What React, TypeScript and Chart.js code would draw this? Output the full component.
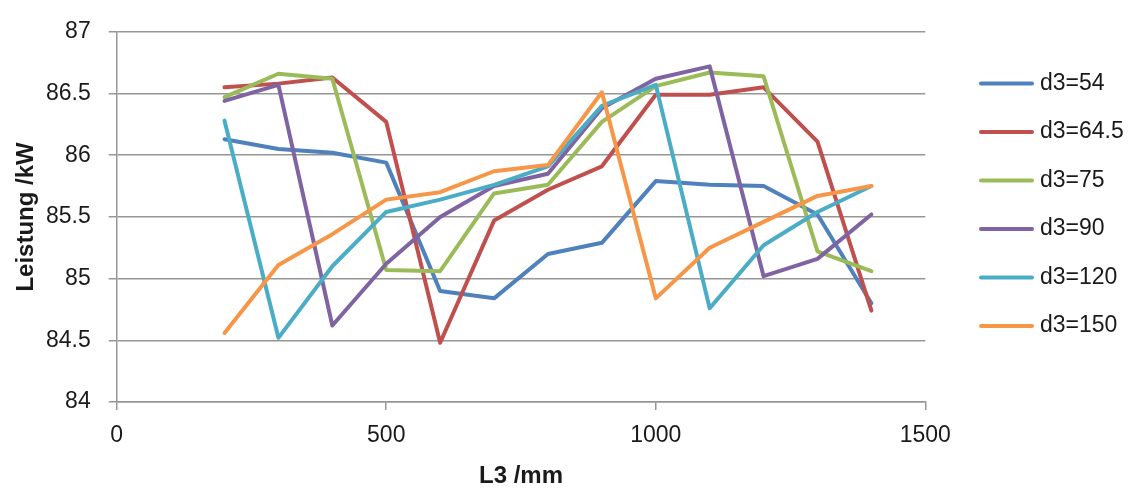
import React, { useEffect, useRef } from "react";
import { Chart, registerables } from "chart.js";

Chart.register(...registerables);

const L3 = [200, 300, 400, 500, 600, 700, 800, 900, 1000, 1100, 1200, 1300, 1400];
const seriesLabels = ["d3=54", "d3=64.5", "d3=75", "d3=90", "d3=120", "d3=150"];
const seriesColors = ["#4F81BD", "#C0504D", "#9BBB59", "#8064A2", "#4BACC6", "#F79646"];
const d54 = [86.13, 86.05, 86.02, 85.94, 84.9, 84.84, 85.2, 85.29, 85.79, 85.76, 85.75, 85.52, 84.8];
const d64_5 = [86.55, 86.58, 86.63, 86.27, 84.48, 85.47, 85.72, 85.91, 86.49, 86.49, 86.55, 86.11, 84.74];
const d75 = [86.47, 86.66, 86.62, 85.07, 85.06, 85.69, 85.76, 86.27, 86.56, 86.67, 86.64, 85.22, 85.06];
const d90 = [86.44, 86.57, 84.62, 85.12, 85.5, 85.75, 85.85, 86.38, 86.62, 86.72, 85.02, 85.16, 85.52];
const d120 = [86.28, 84.52, 85.1, 85.54, 85.64, 85.76, 85.91, 86.4, 86.57, 84.76, 85.27, 85.54, 85.75];
const d150 = [84.56, 85.11, 85.36, 85.64, 85.7, 85.87, 85.92, 86.51, 84.84, 85.25, 85.46, 85.67, 85.75];
const seriesValues = [d54, d64_5, d75, d90, d120, d150];

const xTitle = "L3 /mm";
const yTitle = "Leistung /kW";

const FONT = "'Liberation Sans', Arial, sans-serif";
const TEXT = "#1a1a1a";
const GRID = "#969696";

const legendPlugin = {
  id: "sideLegend",
  afterDraw(chart: any) {
    const ctx = chart.ctx;
    ctx.save();
    chart.data.datasets.forEach((ds: any, i: number) => {
      const y = 83.5 + i * 48.5;
      ctx.strokeStyle = ds.borderColor;
      ctx.lineWidth = 4;
      ctx.lineCap = "round";
      ctx.beginPath();
      ctx.moveTo(981, y);
      ctx.lineTo(1032, y);
      ctx.stroke();
      ctx.fillStyle = TEXT;
      ctx.font = `23px ${FONT}`;
      ctx.textBaseline = "middle";
      ctx.textAlign = "left";
      ctx.fillText(ds.label, 1040, y);
    });
    ctx.restore();
  },
};

export default function App() {
  const ref = useRef<HTMLCanvasElement>(null);
  useEffect(() => {
    if (!ref.current) return;
    const chart = new Chart(ref.current, {
      type: "line",
      data: {
        datasets: seriesLabels.map((label, i) => ({
          label,
          data: L3.map((x, j) => ({ x, y: seriesValues[i][j] })),
          borderColor: seriesColors[i],
          backgroundColor: seriesColors[i],
          borderWidth: 4,
          pointRadius: 0,
          borderJoinStyle: "round" as const,
          borderCapStyle: "round" as const,
          tension: 0,
          fill: false,
          order: seriesLabels.length - i,
        })),
      },
      options: {
        animation: false,
        responsive: false,
        devicePixelRatio: 1,
        layout: { padding: { left: 0, top: 27, right: 210.7, bottom: 0 } },
        plugins: { legend: { display: false }, tooltip: { enabled: false } },
        scales: {
          x: {
            type: "linear",
            min: 0,
            max: 1500,
            ticks: {
              stepSize: 500,
              padding: 12,
              color: TEXT,
              font: { family: FONT, size: 23 },
              callback: (v: any) => String(v),
            },
            grid: { drawOnChartArea: false, drawTicks: true, tickLength: 8, color: GRID, lineWidth: 1.5 },
            border: { display: true, color: GRID, width: 1.5 },
            title: {
              display: true,
              text: xTitle,
              color: TEXT,
              font: { family: FONT, size: 24, weight: "bold" },
              padding: { top: 0, bottom: 0 },
            },
            afterFit: (s: any) => {
              s.height = 89;
            },
          },
          y: {
            type: "linear",
            min: 84,
            max: 87,
            ticks: {
              stepSize: 0.5,
              padding: 18,
              color: TEXT,
              font: { family: FONT, size: 23 },
              callback: (v: any) => String(v),
            },
            grid: { drawOnChartArea: true, drawTicks: true, tickLength: 8, color: GRID, lineWidth: 1.5 },
            border: { display: true, color: GRID, width: 1.5 },
            title: {
              display: true,
              text: yTitle,
              color: TEXT,
              font: { family: FONT, size: 24, weight: "bold" },
              padding: { top: 12, bottom: 0 },
            },
            afterFit: (s: any) => {
              s.width = 116.7;
            },
          },
        },
      },
      plugins: [legendPlugin],
    });
    return () => chart.destroy();
  }, []);
  return (
    <div style={{ position: "fixed", left: 0, top: 0, width: 1136, height: 491, background: "#fff" }}>
      <canvas ref={ref} width={1136} height={491} />
    </div>
  );
}
